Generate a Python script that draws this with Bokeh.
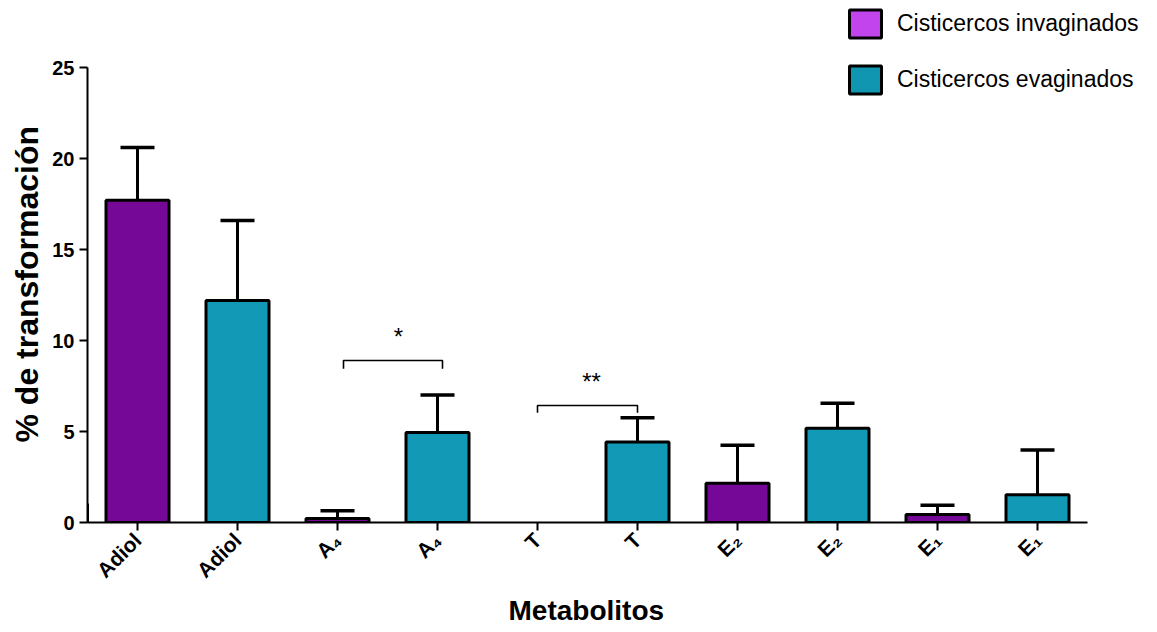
import math
from bokeh.plotting import figure
from bokeh.models import FixedTicker, Legend, LegendItem, Title
from bokeh.core.properties import value
from bokeh.embed import file_html
from bokeh.resources import INLINE

# ---- data ----
tick_labels = ["Adiol", "Adiol", "A₄", "A₄", "T", "T", "E₂", "E₂", "E₁", "E₁"]
inv_x = [0, 2, 4, 6, 8]
inv_mean = [17.7, 0.22, 0.0, 2.15, 0.44]
inv_upper = [20.6, 0.65, 0.0, 4.25, 0.95]
ev_x = [1, 3, 5, 7, 9]
ev_mean = [12.2, 4.95, 4.42, 5.18, 1.53]
ev_upper = [16.6, 7.0, 5.75, 6.55, 3.98]
series_names = ["Cisticercos invaginados", "Cisticercos evaginados"]
y_ticks = [0, 5, 10, 15, 20, 25]
x_title = "Metabolitos"
y_title = "% de transformación"
sig_left = [2.06, 4.0]
sig_right = [3.05, 5.0]
sig_top = [8.9, 6.43]
sig_leg = [0.45, 0.4]
sig_text = ["*", "**"]
sig_text_x = [2.61, 4.54]
sig_text_y = [10.2, 7.75]

FONT = "Liberation Sans"
INV_COLOR = "#750896"
EV_COLOR = "#1199b5"
INV_LEG = "#c244ec"
EV_LEG = "#1196b1"

FW, FH = 1070, 522          # plotting frame in pixels
LEFT, BOTTOM = 87, 108
PX_PER_Y = 18.2
PX_PER_X = 100.0
x_end = -0.5 + FW / PX_PER_X
y_end = FH / PX_PER_Y

p = figure(frame_width=FW, frame_height=FH, x_range=(-0.5, x_end), y_range=(0, y_end),
           output_backend="svg", toolbar_location=None,
           min_border_left=LEFT, min_border_right=0, min_border_top=0, min_border_bottom=BOTTOM)
p.outline_line_color = None
p.xgrid.grid_line_color = None
p.ygrid.grid_line_color = None
p.background_fill_color = "white"
p.border_fill_color = "white"

BW = 0.63
CAP = 0.17

def draw(xs, means, uppers, color):
    keep = [i for i, m in enumerate(means) if m > 0]
    x = [xs[i] for i in keep]
    m = [means[i] for i in keep]
    u = [uppers[i] for i in keep]
    p.segment(x0=x, y0=m, x1=x, y1=u, line_color="black", line_width=3)
    p.segment(x0=[v - CAP for v in x], y0=u, x1=[v + CAP for v in x], y1=u,
              line_color="black", line_width=3.5)
    p.vbar(x=x, top=m, bottom=0, width=BW, fill_color=color, line_color="black", line_width=3)

draw(inv_x, inv_mean, inv_upper, INV_COLOR)
draw(ev_x, ev_mean, ev_upper, EV_COLOR)

# significance brackets
for l, r, t, d in zip(sig_left, sig_right, sig_top, sig_leg):
    p.line(x=[l, l, r, r], y=[t - d, t, t, t - d], line_color="black", line_width=1.6)
p.text(x=sig_text_x, y=sig_text_y, text=sig_text,
       text_align="center", text_baseline="middle", text_font=value(FONT),
       text_font_size="24px", text_color="black")

# legend via off-range proxy renderers
r_inv = p.vbar(x=[-10], top=[1], width=BW, fill_color=INV_LEG, line_color="black", line_width=3)
r_ev = p.vbar(x=[-10], top=[1], width=BW, fill_color=EV_LEG, line_color="black", line_width=3)
legend = Legend(items=[LegendItem(label=series_names[0], renderers=[r_inv]),
                       LegendItem(label=series_names[1], renderers=[r_ev])],
                location=(758, 425), orientation="vertical",
                glyph_width=40, glyph_height=35, spacing=21, padding=0, margin=0,
                label_standoff=12, label_text_font=FONT, label_text_font_size="23px",
                label_text_color="black", background_fill_alpha=0, border_line_alpha=0)
p.add_layout(legend, "center")

# axes
for ax in (p.xaxis[0], p.yaxis[0]):
    ax.axis_line_width = 2
    ax.axis_line_color = "black"
    ax.major_tick_line_width = 2
    ax.major_tick_line_color = "black"
    ax.major_tick_out = 8
    ax.major_tick_in = 0
    ax.minor_tick_line_color = None
    ax.major_label_text_font = FONT
    ax.major_label_text_font_style = "bold"
    ax.major_label_text_color = "black"

p.xaxis.bounds = (-0.5, 9.5)
p.xaxis.ticker = FixedTicker(ticks=list(range(len(tick_labels))))
p.xaxis.major_label_overrides = {i: lab for i, lab in enumerate(tick_labels)}
p.xaxis.major_label_orientation = math.pi / 4
p.xaxis.major_label_text_font_size = "21px"
p.xaxis.major_label_standoff = 6

p.yaxis.bounds = (0, 25)
p.yaxis.ticker = FixedTicker(ticks=y_ticks)
p.yaxis.major_label_text_font_size = "20px"
p.yaxis.major_label_standoff = 5

# axis titles (side titles so they sit on the 0-25 / category span, not the whole frame)
p.add_layout(Title(text=x_title, align="left", offset=421, standoff=0,
                   text_font=FONT, text_font_style="bold", text_font_size="28px",
                   text_color="black"), "below")
p.add_layout(Title(text=y_title, align="left", offset=80, standoff=10,
                   text_font=FONT, text_font_style="bold", text_font_size="32px",
                   text_color="black"), "left")

open("out.html", "w").write(file_html(p, INLINE))
